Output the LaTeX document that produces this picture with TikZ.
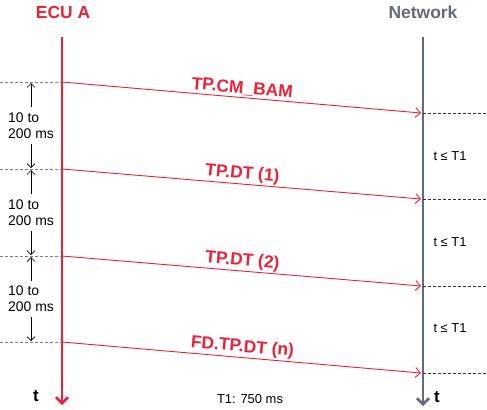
\documentclass[tikz,border=0pt]{standalone}
\usepackage{fontspec}
\setmainfont{Liberation Sans}
\usetikzlibrary{arrows.meta}
\definecolor{ecured}{HTML}{EE2137}
\definecolor{netgray}{HTML}{646A7E}
\tikzset{
  lane/.style={line width=2.6bp, -{Straight Barb[length=6bp,width=12bp]}},
  msg/.style={ecured, line width=0.9bp, -{Straight Barb[length=5bp,width=10bp]}},
  msglabel/.style={sloped, above, inner sep=1.5bp, text=ecured, font=\fontsize{17.5}{19}\selectfont\bfseries},
  leftdash/.style={gray, line width=0.8bp, dash pattern=on 3bp off 2bp},
  rightdash/.style={black!80, line width=0.8bp, dash pattern=on 3bp off 2bp},
  gap/.style={line width=0.7bp, -{Straight Barb[length=4bp,width=8bp]}},
  gaplabel/.style={align=left, font=\fontsize{14}{16}\selectfont, inner sep=0pt},
  waitlabel/.style={font=\fontsize{13}{15}\selectfont, inner sep=0pt}
}
\begin{document}
\begin{tikzpicture}[x=1bp, y=-1bp]
\useasboundingbox (0,0) rectangle (487,409);

% lifelines
\node [text=ecured, font=\fontsize{17.5}{19}\selectfont\bfseries] (ecu) at (63,12) {ECU A};
\node [text=netgray, font=\fontsize{17.5}{19}\selectfont\bfseries] (net) at (423,12) {Network};
\coordinate (ecutop) at (62,37);
\coordinate (ecubot) at (62,405);
\coordinate (nettop) at (423,37);
\coordinate (netbot) at (423,406);
\draw [lane, ecured] (ecutop) -- (ecubot);
\draw [lane, netgray] (nettop) -- (netbot);

% messages
\foreach \i/\ys/\ye/\txt in {1/82/113/TP.CM\_BAM, 2/169/199/TP.DT (1), 3/256/286/TP.DT (2), 4/342/373/FD.TP.DT (n)} {
  \coordinate (s\i) at (62,\ys);
  \coordinate (e\i) at (421,\ye);
  \coordinate (ls\i) at (0,\ys);
  \coordinate (re\i) at (487,\ye);
  \draw [leftdash] (ls\i) -- (s\i);
  \draw [rightdash] (423,\ye) -- (re\i);
  \draw [msg] (s\i) -- node [msglabel] {\txt} (e\i);
}

% gaps between messages
\foreach \i/\ya/\yb in {1/82/169, 2/169/256, 3/256/342} {
  \node [gaplabel] (gap\i) at (31,{(\ya+\yb)/2}) {10 to\\200 ms};
  \coordinate (ga\i) at (31,\ya+1);
  \coordinate (gb\i) at (31,\yb-1);
  \draw [gap] (gap\i.north) ++(0,-5) -- (ga\i);
  \draw [gap] (gap\i.south) ++(0,5) -- (gb\i);
}

% waiting times
\node [waitlabel] (w1) at (450,156) {t ≤ T1};
\node [waitlabel] (w2) at (450,242) {t ≤ T1};
\node [waitlabel] (w3) at (450,328) {t ≤ T1};

\node [font=\fontsize{17}{19}\selectfont\bfseries] (tl) at (36,396) {t};
\node [font=\fontsize{17}{19}\selectfont\bfseries] (tr) at (437,397) {t};
\node [waitlabel] (tone) at (250,399) {T1: 750 ms};

\end{tikzpicture}
\end{document}
